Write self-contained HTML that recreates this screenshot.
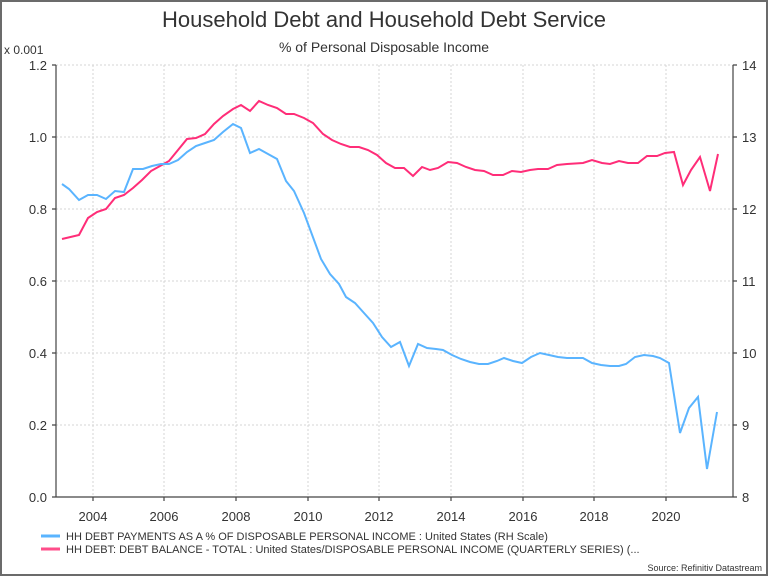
<!DOCTYPE html>
<html><head><meta charset="utf-8"><style>
body{margin:0;background:#fff}
svg{display:block}
text{font-family:"Liberation Sans",sans-serif;fill:#333}
</style></head><body>
<svg width="768" height="576" viewBox="0 0 768 576">
<rect x="1" y="1" width="766" height="574" fill="#fff" stroke="#6b6b6b" stroke-width="2"/>
<text x="384" y="27" font-size="22" text-anchor="middle" fill="#333">Household Debt and Household Debt Service</text>
<text x="384" y="52" font-size="14" text-anchor="middle">% of Personal Disposable Income</text>
<text x="4" y="54" font-size="12">x 0.001</text>
<g stroke="#d4d4d4" stroke-dasharray="2,2" stroke-width="1">
<line x1="56" x2="733" y1="65" y2="65"/><line x1="56" x2="733" y1="137" y2="137"/><line x1="56" x2="733" y1="209" y2="209"/><line x1="56" x2="733" y1="281" y2="281"/><line x1="56" x2="733" y1="353" y2="353"/><line x1="56" x2="733" y1="425" y2="425"/>
<line x1="93" x2="93" y1="65" y2="497"/><line x1="164" x2="164" y1="65" y2="497"/><line x1="236" x2="236" y1="65" y2="497"/><line x1="308" x2="308" y1="65" y2="497"/><line x1="379" x2="379" y1="65" y2="497"/><line x1="451" x2="451" y1="65" y2="497"/><line x1="523" x2="523" y1="65" y2="497"/><line x1="594" x2="594" y1="65" y2="497"/><line x1="666" x2="666" y1="65" y2="497"/>
</g>
<g stroke="#444" stroke-width="1.2" fill="none">
<line x1="56" x2="56" y1="65" y2="497"/><line x1="733" x2="733" y1="65" y2="497"/><line x1="56" x2="733" y1="497" y2="497"/>
<path d="M52 65h4M52 137h4M52 209h4M52 281h4M52 353h4M52 425h4M52 497h4M733 65h4M733 137h4M733 209h4M733 281h4M733 353h4M733 425h4M733 497h4"/>
<path d="M93 497v4M164 497v4M236 497v4M308 497v4M379 497v4M451 497v4M523 497v4M594 497v4M666 497v4"/>
</g>
<g font-size="13" text-anchor="end">
<text x="47" y="70">1.2</text><text x="47" y="142">1.0</text><text x="47" y="214">0.8</text><text x="47" y="286">0.6</text><text x="47" y="358">0.4</text><text x="47" y="430">0.2</text><text x="47" y="502">0.0</text>
</g>
<g font-size="13">
<text x="742" y="70">14</text><text x="742" y="142">13</text><text x="742" y="214">12</text><text x="742" y="286">11</text><text x="742" y="358">10</text><text x="742" y="430">9</text><text x="742" y="502">8</text>
</g>
<g font-size="13" text-anchor="middle">
<text x="93" y="521">2004</text><text x="164" y="521">2006</text><text x="236" y="521">2008</text><text x="308" y="521">2010</text><text x="379" y="521">2012</text><text x="451" y="521">2014</text><text x="523" y="521">2016</text><text x="594" y="521">2018</text><text x="666" y="521">2020</text>
</g>
<polyline fill="none" stroke="#ff2d78" stroke-width="2" points="62,239 79,235 88,218 97,212 106,209 115,198 124,195 133,188 142,180 151,171 160,166 169,161 178,150 187,139 196,138 205,134 214,124 223,116 233,109 241,105 250,111 259,101 268,105 277,108 286,114 294,114 304,118 313,123 323,134 332,140 341,144 350,147 359,147 368,150 377,155 386,163 395,168 404,168 413,176 422,167 430,170 438,168 448,162 457,163 466,167 475,170 484,171 493,175 503,175 512,171 521,172 530,170 538,169 548,169 557,165 567,164 583,163 592,160 602,163 610,164 619,161 628,163 638,163 647,156 657,156 665,153 674,152 683,185 691,170 700,157 710,191 718,154"/>
<polyline fill="none" stroke="#5ab4ff" stroke-width="2" points="62,184 69,189 79,200 88,195 97,195 106,199 115,191 124,192 133,169 143,169 152,166 161,164 169,164 178,160 187,152 196,146 205,143 214,140 223,132 233,124 241,128 250,153 259,149 268,154 277,159 286,181 294,191 304,213 314,240 321,259 330,274 339,284 346,297 355,303 364,313 373,323 382,337 391,347 400,342 409,366 418,344 427,348 436,349 443,350 452,355 461,359 470,362 479,364 488,364 497,361 504,358 513,361 522,363 531,357 540,353 549,355 558,357 567,358 574,358 583,358 592,363 601,365 610,366 619,366 626,364 635,357 644,355 653,356 660,358 669,363 680,433 689,408 698,397 707,469 717,412"/>
<line x1="41" x2="60" y1="536" y2="536" stroke="#5ab4ff" stroke-width="3"/>
<line x1="41" x2="60" y1="549" y2="549" stroke="#ff4d8a" stroke-width="3"/>
<text x="66" y="540" font-size="11">HH DEBT PAYMENTS AS A % OF DISPOSABLE PERSONAL INCOME : United States (RH Scale)</text>
<text x="66" y="553" font-size="11">HH DEBT: DEBT BALANCE - TOTAL : United States/DISPOSABLE PERSONAL INCOME (QUARTERLY SERIES) (...</text>
<text x="762" y="571" font-size="9" text-anchor="end">Source: Refinitiv Datastream</text>
</svg>
</body></html>
